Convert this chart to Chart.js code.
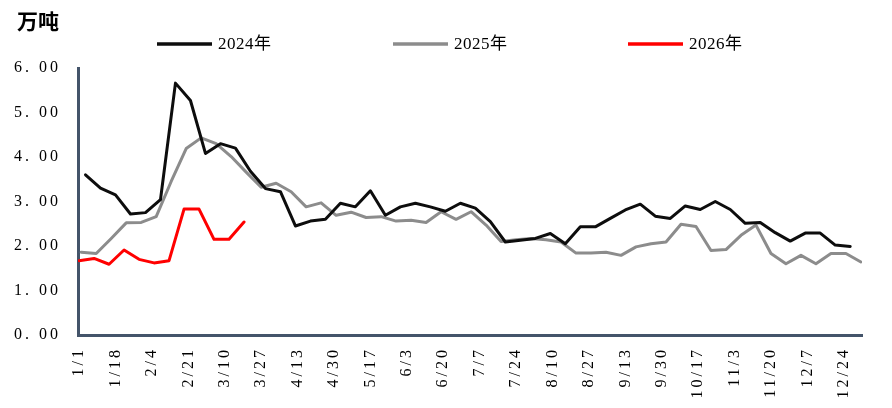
<!DOCTYPE html>
<html><head><meta charset="utf-8">
<script src="https://cdn.jsdelivr.net/npm/chart.js@4/dist/chart.umd.min.js"></script>
<style>html,body{margin:0;padding:0;background:#fff;}#wrap{position:relative;width:892px;height:408px;}</style>
</head><body><div id="wrap"><canvas id="c" width="892" height="408"></canvas></div>
<script>
const unitLabel = '万吨';
const seriesNames = ['2024年', '2025年', '2026年'];
const seriesColors = ['#0D0D0D', '#8C8C8C', '#FF0000'];
const startDates = ['1/4', '1/2', '1/1']; // first weekly reading of each year (month/day)
const values2024 = [3.60,3.30,3.15,2.72,2.75,3.04,5.66,5.27,4.08,4.30,4.20,3.68,3.29,3.22,2.45,2.56,2.60,2.96,2.88,3.24,2.69,2.88,2.96,2.88,2.78,2.96,2.85,2.55,2.09,2.13,2.17,2.28,2.05,2.43,2.43,2.62,2.81,2.94,2.67,2.62,2.90,2.82,3.00,2.82,2.51,2.53,2.30,2.11,2.29,2.29,2.02,1.99];
const values2025 = [1.86,1.83,2.17,2.52,2.53,2.66,3.45,4.19,4.43,4.30,4.01,3.66,3.32,3.41,3.22,2.88,2.97,2.69,2.76,2.64,2.66,2.56,2.58,2.53,2.77,2.60,2.77,2.47,2.10,2.14,2.17,2.14,2.09,1.84,1.84,1.86,1.79,1.98,2.05,2.09,2.49,2.44,1.90,1.92,2.24,2.47,1.83,1.60,1.79,1.60,1.83,1.83,1.64];
const values2026 = [1.67,1.72,1.59,1.91,1.70,1.62,1.67,2.83,2.83,2.15,2.15,2.54];
const tickLabels = ['1/1','1/18','2/4','2/21','3/10','3/27','4/13','4/30','5/17','6/3','6/20','7/7','7/24','8/10','8/27','9/13','9/30','10/17','11/3','11/20','12/7','12/24'];
const yTickValues = [0,1,2,3,4,5,6];

const monthDays = [31,28,31,30,31,30,31,31,30,31,30,31];
function dayOfYear(md){ const [m,d]=md.split('/').map(Number); let n=0; for(let i=0;i<m-1;i++) n+=monthDays[i]; return n+d-1; }
function weekly(start, vals){ const s=dayOfYear(start); return vals.map((v,k)=>({x:s+7*k+0.5, y:v})); }

const allValues = [values2024, values2025, values2026];
const datasets = allValues.map((vals,i)=>({
  label: seriesNames[i], data: weekly(startDates[i], vals),
  borderColor: seriesColors[i], backgroundColor: seriesColors[i],
  borderWidth: 3, pointRadius: 0, tension: 0, fill: false,
  borderJoinStyle: 'round', borderCapStyle: 'round'
}));

const serif = '"Liberation Serif", "Noto Sans CJK SC", serif';
const axisColor = '#44546A';

const overlay = {
  id: 'overlay',
  beforeLayout(chart){ chart.ctx.letterSpacing = '3px'; },
  beforeDraw(chart){ chart.ctx.letterSpacing = '3px'; },
  afterDraw(chart){
    const ctx = chart.ctx;
    ctx.save();
    ctx.letterSpacing = '0px';
    ctx.fillStyle = '#000';
    ctx.font = 'bold 21px "Noto Sans CJK SC", sans-serif';
    ctx.textBaseline = 'middle'; ctx.textAlign = 'left';
    ctx.fillText(unitLabel, 17, 21);
    const xs = [157, 393, 628];
    chart.data.datasets.forEach((ds,i)=>{
      ctx.strokeStyle = ds.borderColor; ctx.lineWidth = 3.5; ctx.lineCap = 'butt';
      ctx.beginPath(); ctx.moveTo(xs[i], 44); ctx.lineTo(xs[i]+55, 44); ctx.stroke();
      ctx.fillStyle = '#000'; ctx.font = '17px ' + serif;
      ctx.letterSpacing = '0.5px';
      ctx.fillText(ds.label, xs[i]+61, 45);
      ctx.letterSpacing = '0px';
    });
    ctx.restore();
    ctx.letterSpacing = '0px';
  }
};

new Chart(document.getElementById('c'), {
  type: 'line',
  data: { datasets },
  options: {
    responsive: false, animation: false, devicePixelRatio: 1,
    layout: { padding: { left: 0, right: 30, top: 68, bottom: 0 } },
    plugins: { legend: { display: false }, tooltip: { enabled: false } },
    scales: {
      x: {
        type: 'linear', min: 0, max: 366,
        grid: { display: false },
        border: { color: axisColor, width: 3 },
        afterBuildTicks: s => { s.ticks = tickLabels.map(l => ({ value: dayOfYear(l) + 0.5 })); },
        afterFit: s => { s.height = 73; },
        ticks: { autoSkip: false, minRotation: 90, maxRotation: 90, padding: 4, color: '#000',
          font: { family: serif, size: 16 },
          callback: (v, i) => tickLabels[i] }
      },
      y: {
        min: 0, max: 6,
        grid: { display: false },
        border: { color: axisColor, width: 3 },
        afterBuildTicks: s => { s.ticks = yTickValues.map(v => ({ value: v })); },
        afterFit: s => { s.width = 78; },
        ticks: { padding: 9, color: '#000', font: { family: serif, size: 16 },
          callback: v => Number(v).toFixed(2).replace('.', '. ') }
      }
    }
  },
  plugins: [overlay]
});
</script></body></html>
